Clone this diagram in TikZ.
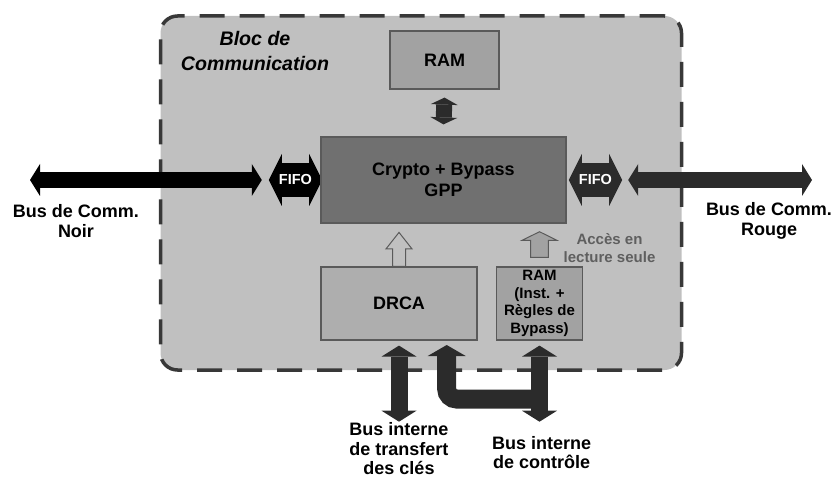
\documentclass[tikz,border=0pt]{standalone}
\usepackage{fontspec}
\setmainfont{Liberation Sans}
\usepackage{xcolor}
\usetikzlibrary{arrows.meta, backgrounds}
\definecolor{blocgray}{HTML}{C0C0C0}
\definecolor{dashgray}{HTML}{383838}
\definecolor{edgegray}{HTML}{5A5A5A}
\definecolor{ramgray}{HTML}{A2A2A2}
\definecolor{cryptogray}{HTML}{707070}
\definecolor{drcagray}{HTML}{AEAEAE}
\definecolor{busgray}{HTML}{2B2B2B}
\definecolor{notegray}{HTML}{5F5F5F}
\tikzset{Bloc/.style = {% styles of the communication block
     bloc/.style = {draw=dashgray, fill=blocgray, line width=3.5pt,
                    dash pattern=on 25pt off 15pt, rounded corners=17pt,
                    minimum width=521pt, minimum height=354pt},
     unit/.style = {draw=edgegray, line width=1.2pt, align=center, inner sep=0pt,
                    font=\bfseries\fontsize{18}{21}\selectfont},
    titre/.style = {align=center, font=\bfseries\itshape\fontsize{19.6}{25}\selectfont},
 buslabel/.style = {align=center, font=\bfseries\fontsize{18}{19.5}\selectfont},
     note/.style = {align=center, text=notegray, font=\bfseries\fontsize{15}{18}\selectfont},
fifolabel/.style = {text=white, inner sep=0pt, minimum width=53pt, minimum height=34pt,
                    font=\bfseries\fontsize{14.5}{16}\selectfont},
fifoarrow/.style = {line width=34pt,
                    {Triangle[width=52pt,length=13pt,line width=0pt]}-{Triangle[width=52pt,length=13pt,line width=0pt]}},
      bus/.style = {line width=16pt,
                    {Triangle[width=32pt,length=10pt,line width=0pt]}-{Triangle[width=32pt,length=10pt,line width=0pt]}},
  intbus/.style = {draw=busgray, line width=17pt,
                    {Triangle[width=35pt,length=11pt,line width=0pt]}-{Triangle[width=35pt,length=11pt,line width=0pt]}},
 liftarrow/.style = {draw=edgegray, line width=1pt, line join=miter}}
        }

\begin{document}
\begin{tikzpicture}[Bloc, x=1pt, y=-1pt]
\useasboundingbox (0,0) rectangle (837,478);

% nodes
\begin{scope}[on background layer]
\node (bloc)    [bloc] at (421,193) {};
\end{scope}
\node (title)   [titre] at (255,51) {Bloc de\\Communication};
\node (ram)     [unit, fill=ramgray, minimum width=109pt, minimum height=58pt] at (444.5,60) {RAM};
\node (crypto)  [unit, fill=cryptogray, minimum width=245pt, minimum height=86pt] at (443.5,180) {Crypto + Bypass\\GPP};
\node (drca)    [unit, fill=drcagray, minimum width=156pt, minimum height=73pt] at (399,303.5) {DRCA};
\node (raminst) [unit, fill=ramgray, minimum width=85.5pt, minimum height=73pt,
                 font=\bfseries\fontsize{15}{17.7}\selectfont] at (539.5,303.5) {RAM\\(Inst. +\\Règles de\\Bypass)};
\node (fifoL)   [fifolabel] at (295.5,180) {FIFO};
\node (fifoR)   [fifolabel] at (595.5,180) {FIFO};
\node (acces)   [note] at (609.5,248) {Accès en\\lecture seule};
\node (noir)    [buslabel] at (76,221) {Bus de Comm.\\Noir};
\node (rouge)   [buslabel] at (769,221) {Bus de Comm.\\Rouge};
\node (cles)    [buslabel] at (399,449) {Bus interne\\de transfert\\des clés};
\node (ctrl)    [buslabel] at (541.7,452.5) {Bus interne\\de contrôle};
\coordinate (noirend)  at (30,180);
\coordinate (rougeend) at (812,180);
\coordinate (clesend)  at (399,421.7);
\coordinate (ctrlend)  at (539.5,421.7);
\coordinate (ctrltip)  at (446.7,345);
\coordinate (ctrljoin) at (539.5,399);

% fifo bodies under their labels
\begin{scope}[on background layer]
\draw [fifoarrow, draw=black]   (fifoL.west) -- (fifoL.east);
\draw [fifoarrow, draw=busgray] (fifoR.west) -- (fifoR.east);
\end{scope}

% extra paths
\draw [bus, draw=black]   (noirend) -- ([xshift=-7pt]fifoL.west);
\draw [bus, draw=busgray] ([xshift=6pt]fifoR.east) -- (rougeend);
\draw [draw=busgray, line width=16pt,
       {Triangle[width=27pt,length=7pt,line width=0pt]}-{Triangle[width=27pt,length=7pt,line width=0pt]}]
      ([yshift=-8pt]ram.south) -- ([yshift=12pt]crypto.north);
\filldraw [liftarrow, fill=blocgray] (drca.north) ++(-6.5,0) -- ++(0,-17.5) -- ++(-6.5,0)
      -- ++(13,-16.5) -- ++(13,16.5) -- ++(-6.5,0) -- ++(0,17.5) -- cycle;
\filldraw [liftarrow, fill=ramgray] ([yshift=9pt]raminst.north) ++(-8.8,0) -- ++(0,-17) -- ++(-8.7,0)
      -- ++(17.5,-8.7) -- ++(17.5,8.7) -- ++(-8.7,0) -- ++(0,17) -- cycle;
\draw [intbus] ([yshift=-5pt]drca.south) -- (clesend);
\draw [intbus] ([yshift=-5pt]raminst.south) -- (ctrlend);
\draw [draw=busgray, line width=19pt, rounded corners=10pt,
       {Triangle[width=38pt,length=11pt,line width=0pt]}-] (ctrltip) |- (ctrljoin);

\end{tikzpicture}
\end{document}
